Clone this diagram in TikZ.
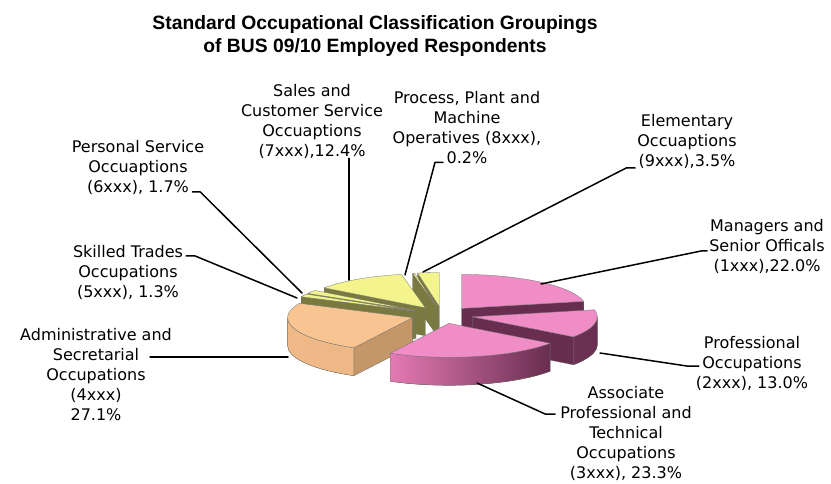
\documentclass[tikz,border=0pt]{standalone}
\usepackage{fontspec}
\usepackage{tikz}
\newfontfamily\lblfont{DejaVu Sans}
\newfontfamily\ttlfont{Liberation Sans}
\definecolor{pinktop}{RGB}{240,140,198}
\definecolor{pinkside}{RGB}{228,122,178}
\definecolor{maroon}{RGB}{104,46,80}
\definecolor{tantop}{RGB}{248,197,146}
\definecolor{tanside}{RGB}{240,186,136}
\definecolor{tandark}{RGB}{196,150,104}
\definecolor{yeltop}{RGB}{244,244,140}
\definecolor{olive}{RGB}{122,122,64}

\begin{document}
\begin{tikzpicture}[line cap=round,line join=round,x=1pt,y=1pt,
  lbl/.style={font=\lblfont\fontsize{16}{20}\selectfont,align=center,inner sep=0pt},
  leader/.style={line width=1.5pt,black},
  outl/.style={draw=black!55,line width=0.3pt}]

\useasboundingbox (0,0) rectangle (831,-484);

\node[font=\ttlfont\bfseries\fontsize{19.3}{23}\selectfont,align=center] (title) at (375,-36) {Standard Occupational Classification Groupings\\of BUS 09/10 Employed Respondents};

% slice tips
\coordinate (mgr) at (461.5,-308.4);
\coordinate (prf) at (472.3,-316.8);
\coordinate (asc) at (449,-323.3);
\coordinate (adm) at (412.6,-317.7);
\coordinate (skl) at (414.5,-311.1);
\coordinate (per) at (416,-310.4);
\coordinate (sal) at (425.3,-307.8);
\coordinate (pro) at (436.4,-306.6);
\coordinate (ele) at (439.3,-306.5);

% back slices
\filldraw[fill=olive,outl] (ele) -- ++(100:125 and 34) -- ++(0,-28) -- ++(280:125 and 34) -- cycle;
\filldraw[fill=yeltop,outl] (ele) -- ++(90:125 and 34) arc[start angle=90,end angle=100,x radius=125,y radius=34] -- cycle;
\filldraw[fill=olive,outl] (pro) -- ++(101:125 and 34) -- ++(0,-28) -- ++(281:125 and 34) -- cycle;
\filldraw[fill=yeltop,outl] (pro) -- ++(100:125 and 34) arc[start angle=100,end angle=101,x radius=125,y radius=34] -- cycle;
\filldraw[fill=olive,outl] (sal) -- ++(144:125 and 34) -- ++(0,-28) -- ++(324:125 and 34) -- cycle;
\filldraw[fill=yeltop,outl] (sal) -- ++(101:125 and 34) arc[start angle=101,end angle=144,x radius=125,y radius=34] -- cycle;
\filldraw[fill=olive,outl] (per) -- ++(150:125 and 34) -- ++(0,-28) -- ++(330:125 and 34) -- cycle;
\filldraw[fill=yeltop,outl] (per) -- ++(144:125 and 34) arc[start angle=144,end angle=150,x radius=125,y radius=34] -- cycle;
\filldraw[fill=olive,outl] (skl) -- ++(155:125 and 34) -- ++(0,-28) -- ++(335:125 and 34) -- cycle;
\filldraw[fill=yeltop,outl] (skl) -- ++(150:125 and 34) arc[start angle=150,end angle=155,x radius=125,y radius=34] -- cycle;
\filldraw[fill=maroon,outl] (mgr) -- ++(12:125 and 34) -- ++(0,-28) -- ++(192:125 and 34) -- cycle;
\filldraw[fill=pinktop,outl] (mgr) -- ++(12:125 and 34) arc[start angle=12,end angle=90,x radius=125,y radius=34] -- cycle;

% front slices
\filldraw[left color=tanside,right color=tanside!85!tandark,outl] (adm) ++(180:125 and 34) arc[start angle=180,end angle=242,x radius=125,y radius=34] -- ++(0,-28) arc[start angle=242,end angle=180,x radius=125,y radius=34] -- cycle;
\filldraw[fill=tandark,outl] (adm) -- ++(242:125 and 34) -- ++(0,-28) -- ++(62:125 and 34) -- cycle;
\filldraw[fill=tantop,outl] (adm) -- ++(155:125 and 34) arc[start angle=155,end angle=242,x radius=125,y radius=34] -- cycle;
\filldraw[fill=maroon,outl] (prf) -- ++(-36:125 and 34) -- ++(0,-28) -- ++(144:125 and 34) -- cycle;
\filldraw[left color=maroon!80!pinkside,right color=maroon,outl] (prf) ++(-36:125 and 34) arc[start angle=-36,end angle=0,x radius=125,y radius=34] -- ++(0,-28) arc[start angle=0,end angle=-36,x radius=125,y radius=34] -- cycle;
\filldraw[fill=pinktop,outl] (prf) -- ++(-36:125 and 34) arc[start angle=-36,end angle=12,x radius=125,y radius=34] -- cycle;
\filldraw[left color=pinkside,right color=maroon,outl] (asc) ++(-118:125 and 34) arc[start angle=-118,end angle=-36,x radius=125,y radius=34] -- ++(0,-28) arc[start angle=-36,end angle=-118,x radius=125,y radius=34] -- cycle;
\filldraw[fill=pinktop,outl] (asc) -- ++(-118:125 and 34) arc[start angle=-118,end angle=-36,x radius=125,y radius=34] -- cycle;

% leader ends on the slices
\coordinate (mgrpt) at (541,-284);
\coordinate (prfpt) at (600,-353);
\coordinate (ascpt) at (477,-383);
\coordinate (admpt) at (288,-357);
\coordinate (sklpt) at (297,-298);
\coordinate (perpt) at (302,-293);
\coordinate (salpt) at (349,-280);
\coordinate (propt) at (405,-275);
\coordinate (elept) at (423,-272);

\node[lbl] (lblmgr) at (767,-246) {Managers and\\Senior Officals\\(1xxx),22.0\%};
\node[lbl] (lblprf) at (752,-363) {Professional\\Occupations\\(2xxx), 13.0\%};
\node[lbl] (lblasc) at (626,-433) {Associate\\Professional and\\Technical\\Occupations\\(3xxx), 23.3\%};
\node[lbl] (lbladm) at (96,-375) {Administrative and\\Secretarial\\Occupations\\(4xxx)\\27.1\%};
\node[lbl] (lblskl) at (128,-272) {Skilled Trades\\Occupations\\(5xxx), 1.3\%};
\node[lbl] (lblper) at (138,-167) {Personal Service\\Occuaptions\\(6xxx), 1.7\%};
\node[lbl] (lblsal) at (312,-121) {Sales and\\Customer Service\\Occuaptions\\(7xxx),12.4\%};
\node[lbl] (lblpro) at (467,-128) {Process, Plant and\\Machine\\Operatives (8xxx),\\0.2\%};
\node[lbl] (lblele) at (687,-141) {Elementary\\Occuaptions\\(9xxx),3.5\%};

\draw[leader] (mgrpt) -- ([xshift=-8pt,yshift=-5pt]lblmgr.west) -- ([xshift=-2pt,yshift=-5pt]lblmgr.west);
\draw[leader] (prfpt) -- ([xshift=-9pt,yshift=-3pt]lblprf.west) -- ([xshift=3pt,yshift=-3pt]lblprf.west);
\draw[leader] (ascpt) -- ([xshift=-15pt,yshift=19pt]lblasc.west) -- ([xshift=-5pt,yshift=19pt]lblasc.west);
\draw[leader] ([xshift=-22pt,yshift=18pt]lbladm.east) -- (admpt);
\draw[leader] ([xshift=3pt,yshift=16pt]lblskl.east) -- ([xshift=12pt,yshift=16pt]lblskl.east) -- (sklpt);
\draw[leader] ([xshift=-12pt,yshift=-25pt]lblper.east) -- ([xshift=-4pt,yshift=-25pt]lblper.east) -- (perpt);
\draw[leader] ([xshift=37pt]lblsal.south) -- (salpt);
\draw[leader] ([xshift=-24pt,yshift=2pt]lblpro.south) -- ([xshift=-32pt,yshift=2pt]lblpro.south) -- (propt);
\draw[leader] ([xshift=-2pt,yshift=-27pt]lblele.west) -- ([xshift=-11pt,yshift=-27pt]lblele.west) -- (elept);

\end{tikzpicture}
\end{document}
